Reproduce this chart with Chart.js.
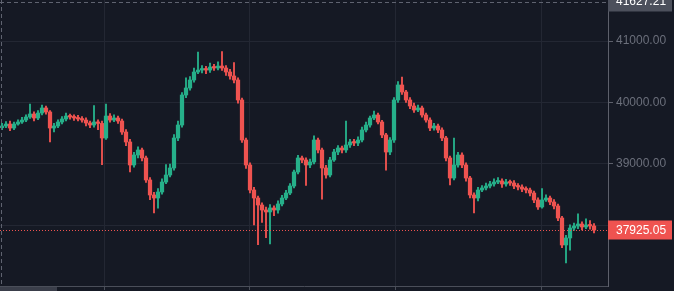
<!DOCTYPE html>
<html lang="en">
<head>
  <meta charset="UTF-8" />
  <title>BTC candles</title>
  <script src="https://cdn.jsdelivr.net/npm/chart.js"></script>
  <style>
    html, body { margin: 0; padding: 0; background: #151924; overflow: hidden; }
    canvas { display: block; }
  </style>
</head>
<body>
  <canvas id="candles" width="674" height="291"></canvas>

  <script>
    // candle values left to right
    const opens = [39590, 39618, 39650, 39585, 39650, 39683, 39715, 39764, 39813, 39748,
      39829, 39911, 39846, 39585, 39618, 39683, 39732, 39780, 39764, 39748,
      39732, 39715, 39667, 39634, 39683, 39660, 39423, 39780, 39715, 39748,
      39699, 39520, 39358, 38984, 39146, 39228, 39098, 38740, 38496, 38447,
      38545, 38707, 38821, 38935, 39423, 39634, 40122, 40236, 40366, 40496,
      40528, 40545, 40528, 40577, 40561, 40593, 40561, 40496, 40431, 40366,
      40041, 39390, 38984, 38577, 38447, 38333, 38252, 38220, 38285, 38252,
      38350, 38447, 38528, 38642, 38870, 39098, 39065, 38984, 39033, 39390,
      39228, 38935, 38821, 39065, 39195, 39260, 39228, 39309, 39358, 39341,
      39390, 39553, 39634, 39748, 39797, 39683, 39472, 39195, 39390, 40041,
      40285, 40171, 40041, 39943, 39878, 39911, 39797, 39715, 39585, 39618,
      39553, 39423, 39098, 38772, 38984, 39146, 38984, 38772, 38496, 38447,
      38577, 38610, 38642, 38675, 38707, 38724, 38675, 38707, 38691, 38642,
      38626, 38593, 38577, 38528, 38415, 38301, 38415, 38447, 38382, 38317,
      38122, 37683, 37797, 37959, 37992, 38024, 37976, 38008, 37992];
    const highs = [39660, 39690, 39700, 39680, 39720, 39760, 39800, 39975, 39850, 39870,
      39960, 39940, 39870, 39660, 39720, 39770, 39830, 39810, 39800, 39790,
      39770, 39750, 39700, 39950, 39720, 39700, 39976, 39820, 39800, 39780,
      39730, 39560, 39400, 39190, 39280, 39260, 39130, 38780, 38540, 38600,
      38760, 38990, 39000, 39480, 39700, 40160, 40400, 40420, 40560, 40821,
      40600, 40590, 40640, 40620, 40660, 40830, 40600, 40540, 40650, 40400,
      40070, 39420, 39020, 38620, 38480, 38370, 38300, 38340, 38320, 38400,
      38490, 38570, 38680, 38900, 39140, 39130, 39100, 39080, 39460, 39420,
      39260, 38980, 39110, 39240, 39300, 39290, 39700, 39400, 39400, 39440,
      39600, 39680, 39780, 39860, 39830, 39710, 39500, 39430, 40080, 40340,
      40415, 40200, 40080, 39990, 39960, 39940, 39830, 39750, 39660, 39650,
      39590, 39450, 39130, 39420, 39190, 39180, 39020, 38800, 38530, 38620,
      38650, 38690, 38720, 38760, 38780, 38760, 38750, 38740, 38730, 38680,
      38660, 38630, 38610, 38560, 38450, 38600, 38500, 38480, 38420, 38350,
      38150, 37840, 38010, 38040, 38190, 38060, 38110, 38080, 38030];
    const lows = [39560, 39590, 39540, 39560, 39630, 39660, 39690, 39740, 39700, 39720,
      39800, 39810, 39360, 39520, 39590, 39650, 39700, 39730, 39710, 39700,
      39680, 39620, 39590, 39600, 39560, 38990, 39400, 39680, 39690, 39660,
      39480, 39300, 38870, 38950, 39100, 39050, 38700, 38420, 38203, 38280,
      38510, 38680, 38790, 38900, 39380, 39600, 40080, 40200, 40330, 40470,
      40480, 40470, 40490, 40520, 40530, 40520, 40440, 40380, 40320, 39990,
      39350, 38930, 38530, 38010, 37690, 38050, 37800, 37700, 38160, 38200,
      38320, 38420, 38500, 38610, 38840, 39020, 38650, 38940, 39000, 39180,
      38430, 38770, 38790, 39040, 39150, 39180, 39190, 39270, 39300, 39300,
      39360, 39520, 39600, 39720, 39650, 39430, 38900, 39150, 39350, 40000,
      40130, 40000, 39900, 39840, 39850, 39760, 39680, 39540, 39550, 39510,
      39380, 39050, 38660, 38740, 38950, 38940, 38720, 38450, 38203, 38400,
      38550, 38580, 38610, 38640, 38680, 38620, 38640, 38650, 38600, 38580,
      38550, 38530, 38480, 38370, 38260, 38280, 38390, 38340, 38270, 38080,
      37640, 37390, 37600, 37920, 37950, 37930, 37950, 37940, 37880];
    const closes = [39618, 39650, 39585, 39650, 39683, 39715, 39764, 39813, 39748, 39829,
      39911, 39846, 39585, 39618, 39683, 39732, 39780, 39764, 39748, 39732,
      39715, 39667, 39634, 39683, 39660, 39423, 39780, 39715, 39748, 39699,
      39520, 39358, 38984, 39146, 39228, 39098, 38740, 38496, 38447, 38545,
      38707, 38821, 38935, 39423, 39634, 40122, 40236, 40366, 40496, 40528,
      40545, 40528, 40577, 40561, 40593, 40561, 40496, 40431, 40366, 40041,
      39390, 38984, 38577, 38447, 38333, 38252, 38220, 38285, 38252, 38350,
      38447, 38528, 38642, 38870, 39098, 39065, 38984, 39033, 39390, 39228,
      38935, 38821, 39065, 39195, 39260, 39228, 39309, 39358, 39341, 39390,
      39553, 39634, 39748, 39797, 39683, 39472, 39195, 39390, 40041, 40285,
      40171, 40041, 39943, 39878, 39911, 39797, 39715, 39585, 39618, 39553,
      39423, 39098, 38772, 38984, 39146, 38984, 38772, 38496, 38447, 38577,
      38610, 38642, 38675, 38707, 38724, 38675, 38707, 38691, 38642, 38626,
      38593, 38577, 38528, 38415, 38301, 38415, 38447, 38382, 38317, 38122,
      37683, 37797, 37959, 37992, 38024, 37976, 38008, 37992, 37925.05];

    const priceTicks = [38000, 39000, 40000, 41000];
    const periodTicks = [25.5, 61.75, 98.25, 134.75]; // time separators, in candle index
    const lastPrice = 37925.05;
    const markPrice = 41627.21;

    const UP = '#26b08a';
    const DOWN = '#ef5350';

    const colors = closes.map((c, i) => c >= opens[i] ? UP : DOWN);
    const bodies = closes.map((c, i) => ({ x: i, y: [opens[i], c] }));
    const wicks = closes.map((c, i) => ({ x: i, y: [lows[i], highs[i]] }));

    const overlay = {
      id: 'overlay',
      beforeDraw(chart) {
        const ctx = chart.ctx;
        ctx.save();
        ctx.fillStyle = '#151924';
        ctx.fillRect(0, 0, chart.width, chart.height);
        ctx.restore();
      },
      afterDraw(chart) {
        const ctx = chart.ctx;
        const area = chart.chartArea;
        const y = chart.scales.y;
        ctx.save();

        // last price dotted line
        const py = Math.round(y.getPixelForValue(lastPrice)) + 0.5;
        ctx.strokeStyle = DOWN;
        ctx.lineWidth = 1;
        ctx.setLineDash([1, 2]);
        ctx.beginPath();
        ctx.moveTo(area.left, py);
        ctx.lineTo(area.right, py);
        ctx.stroke();

        // dashed crosshair lines at top and left
        const my = Math.round(y.getPixelForValue(markPrice)) + 0.5;
        ctx.strokeStyle = '#5f6370';
        ctx.setLineDash([4, 3]);
        ctx.beginPath();
        ctx.moveTo(area.left, my);
        ctx.lineTo(area.right, my);
        ctx.moveTo(area.left + 1.5, area.top);
        ctx.lineTo(area.left + 1.5, area.bottom);
        ctx.stroke();
        ctx.setLineDash([]);

        // price labels on the axis
        ctx.font = '12px "Liberation Sans", Arial, sans-serif';
        ctx.textBaseline = 'middle';
        ctx.fillStyle = DOWN;
        ctx.fillRect(area.right, py - 10, 64, 19);
        ctx.fillStyle = '#ffffff';
        ctx.fillText(lastPrice.toFixed(2), area.right + 8, py);

        ctx.fillStyle = '#4c505c';
        ctx.fillRect(area.right, my - 10, 64, 19);
        ctx.fillStyle = '#ffffff';
        ctx.fillText(markPrice.toFixed(2), area.right + 8, my - 1);

        // scrollbar stub under the time axis
        ctx.fillStyle = '#3a3e4a';
        ctx.fillRect(0, area.bottom + 1, 57, 6);
        ctx.restore();
      }
    };

    new Chart(document.getElementById('candles'), {
      type: 'bar',
      data: {
        datasets: [
          {
            data: bodies,
            backgroundColor: colors,
            borderWidth: 0,
            barThickness: 3.6,
            minBarLength: 1.5,
            grouped: false,
            order: 0
          },
          {
            data: wicks,
            backgroundColor: colors,
            borderWidth: 0,
            barThickness: 1.2,
            grouped: false,
            order: 1
          }
        ]
      },
      options: {
        responsive: false,
        animation: false,
        devicePixelRatio: 1,
        layout: { padding: 0 },
        plugins: { legend: { display: false }, tooltip: { enabled: false } },
        scales: {
          x: {
            type: 'linear',
            min: -0.5,
            max: 151.5,
            offset: false,
            afterBuildTicks: s => { s.ticks = periodTicks.map(v => ({ value: v })); },
            afterFit: s => { s.height = 5; s.paddingLeft = 0; s.paddingRight = 0; },
            ticks: { display: false },
            grid: { color: '#232733', offset: false, tickLength: 4, tickColor: '#4a4e59' },
            border: { color: '#4a4e59' }
          },
          y: {
            position: 'right',
            min: 37016,
            max: 41667,
            afterBuildTicks: s => { s.ticks = priceTicks.map(v => ({ value: v })); },
            afterFit: s => { s.width = 66; s.paddingTop = 0; s.paddingBottom = 0; },
            ticks: {
              color: '#6b6f7b',
              padding: 3,
              font: { family: '"Liberation Sans", Arial, sans-serif', size: 12 },
              // the label next to the last price is hidden under its marker
              callback: v => Math.abs(v - lastPrice) < 200 ? '' : v.toFixed(2)
            },
            grid: { color: '#232733', tickLength: 5, tickColor: '#5d606b' },
            border: { color: '#5d606b' }
          }
        }
      },
      plugins: [overlay]
    });
  </script>
</body>
</html>
